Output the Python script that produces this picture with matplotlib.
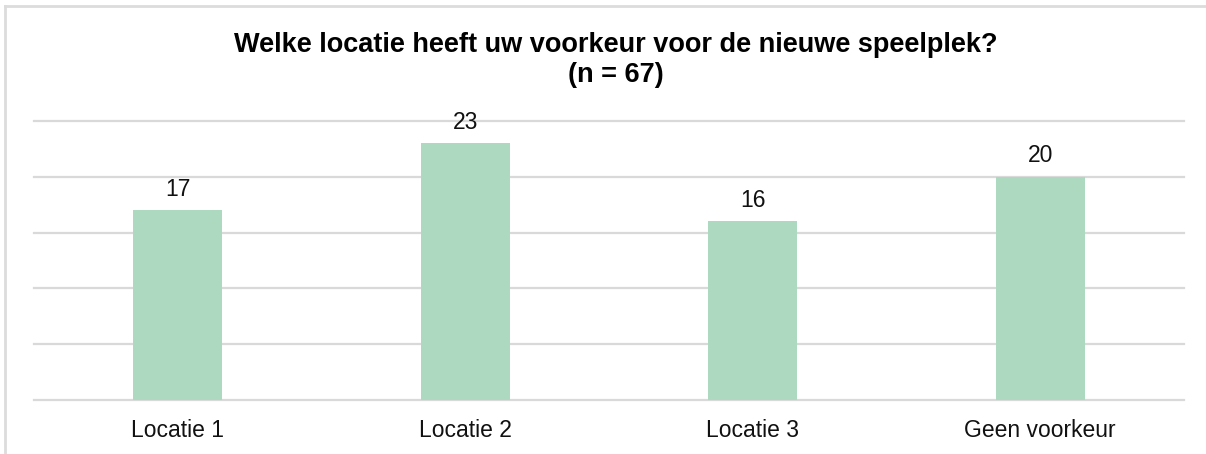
import matplotlib
matplotlib.use("Agg")
import matplotlib.pyplot as plt
from matplotlib.lines import Line2D

categories = ["Locatie 1", "Locatie 2", "Locatie 3", "Geen voorkeur"]
values = [17, 23, 16, 20]
title = "Welke locatie heeft uw voorkeur voor de nieuwe speelplek?\n(n = 67)"

plt.rcParams['font.family'] = ['Liberation Sans', 'DejaVu Sans']

W, H = 1206, 454
fig = plt.figure(figsize=(W/100, H/100), dpi=100)
ax = fig.add_axes([34/W, 1-400/H, (1184-34)/W, (400-121)/H])

x = range(len(categories))
bars = ax.bar(x, values, width=0.31, color="#acd9c0", zorder=3)
for xi, v in zip(x, values):
    ax.annotate(str(v), (xi, v), xytext=(0, 7), textcoords="offset points",
                ha="center", va="bottom", fontsize=16.5, color="#111111")

ax.set_xlim(-0.5, 3.5)
ax.set_ylim(0, 25)
ax.set_yticks([0, 5, 10, 15, 20, 25])
ax.yaxis.grid(True, color="#d9d9d9", linewidth=1.6, zorder=0)
for gl in ax.get_ygridlines():
    gl.set_clip_on(False)
ax.tick_params(axis="y", left=False, labelleft=False)
ax.set_xticks(list(x))
ax.set_xticklabels(categories, fontsize=16.5, color="#111111")
ax.tick_params(axis="x", length=0, pad=14)
for s in ax.spines.values():
    s.set_visible(False)

fig.text(616/W, 1-60/H, title, ha="center", va="center", fontsize=19.5,
         fontweight="bold", color="#000000", linespacing=1.15)

fig.add_artist(Line2D([5/W, 5/W], [0, 1-6/H], color="#dcdcdc", linewidth=2, transform=fig.transFigure))
fig.add_artist(Line2D([5/W, 1], [1-6/H, 1-6/H], color="#dcdcdc", linewidth=2, transform=fig.transFigure))

fig.savefig("out.png", dpi=100)
